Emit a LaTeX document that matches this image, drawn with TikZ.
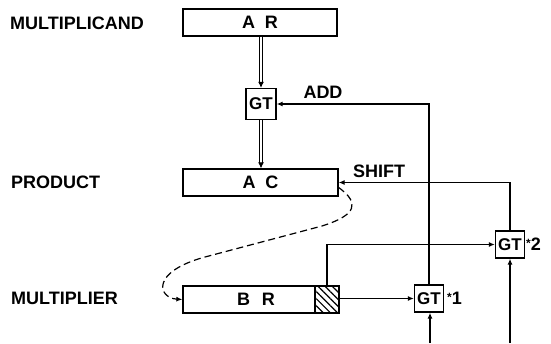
\documentclass[tikz,border=0pt]{standalone}
\usepackage{fontspec}
\setmainfont{Liberation Sans}
\usetikzlibrary{arrows.meta,patterns.meta}
\begin{document}
\begin{tikzpicture}[x=1pt,y=-1pt,
  lbl/.style={font=\fontsize{18}{18}\selectfont\bfseries, inner sep=0pt},
  reg/.style={draw, line width=1.3pt, minimum height=27pt, inner sep=0pt, font=\fontsize{18}{18}\selectfont\bfseries},
  gate/.style={draw, line width=1.3pt, minimum width=29pt, minimum height=27pt, inner sep=0pt, font=\fontsize{17}{17}\selectfont\bfseries},
  conn/.style={line width=1.2pt, -{Latex[length=6pt,width=5pt]}},
  dbl/.style={line width=1pt, double, double distance=1.4pt, -{Latex[length=6pt,width=6pt]}},
]
\useasboundingbox (0,0) rectangle (551,343);
% labels
\node[lbl, anchor=west] (lmc) at (10,23) {MULTIPLICAND};
\node[lbl, anchor=west] (lpr) at (11,182) {PRODUCT};
\node[lbl, anchor=west] (lmr) at (11,298) {MULTIPLIER};
% registers
\node[reg, minimum width=154pt] (AR) at (260,22.5) {A\hspace{10pt}R};
\node[reg, minimum width=155pt] (AC) at (260.5,182.5) {A\hspace{10pt}C};
\node[reg, minimum width=132pt] (BR) at (249,299.5) {\hspace{14pt}B\hspace{12pt}R};
\node[draw, line width=1.3pt, minimum width=24pt, minimum height=27pt, inner sep=0pt,
      pattern={Lines[angle=-45,distance=5pt,line width=1.2pt]}] (hatch) at (327,299.5) {};
% gates
\node[gate, minimum width=30pt, minimum height=31pt] (GT0) at (261,104) {GT};
\node[gate] (GT1) at (429,298.5) {GT};
\node[gate] (GT2) at (510,244.5) {GT};
\node[lbl, anchor=west] (s1) at (447,298) {\raisebox{3pt}{\fontsize{12}{12}\selectfont *}1};
\node[lbl, anchor=west] (s2) at (526,244) {\raisebox{3pt}{\fontsize{12}{12}\selectfont *}2};
\node[lbl] (add) at (323,92) {ADD};
\node[lbl] (shift) at (379,171) {SHIFT};
% coordinates
\coordinate (b1) at (430,343);
\coordinate (b2) at (510,343);
% connectors
\draw[dbl] (AR.south -| GT0.north) -- (GT0.north);
\draw[dbl] (GT0.south) -- (GT0.south |- AC.north);
\draw[conn] (GT1.north) -- (GT1.north |- GT0.east) -- (GT0.east);
\draw[conn] (GT2.north) -- (GT2.north |- AC.east) -- (AC.east);
\draw[conn] (hatch.north) -- (hatch.north |- GT2.west) -- (GT2.west);
\draw[conn] (hatch.east |- GT1.west) -- (GT1.west);
\draw[conn] (b1) -- (b1 |- GT1.south);
\draw[conn] (b2) -- (GT2.south);
\draw[line width=1.2pt, dash pattern=on 7pt off 4pt, -{Latex[length=6pt,width=5pt]}]
  ([yshift=-5pt]AC.east) .. controls (360,203) and (357,215) .. (322,226)
  -- (205,257) .. controls (150,272) and (158,298) .. (BR.west);
\end{tikzpicture}
\end{document}
